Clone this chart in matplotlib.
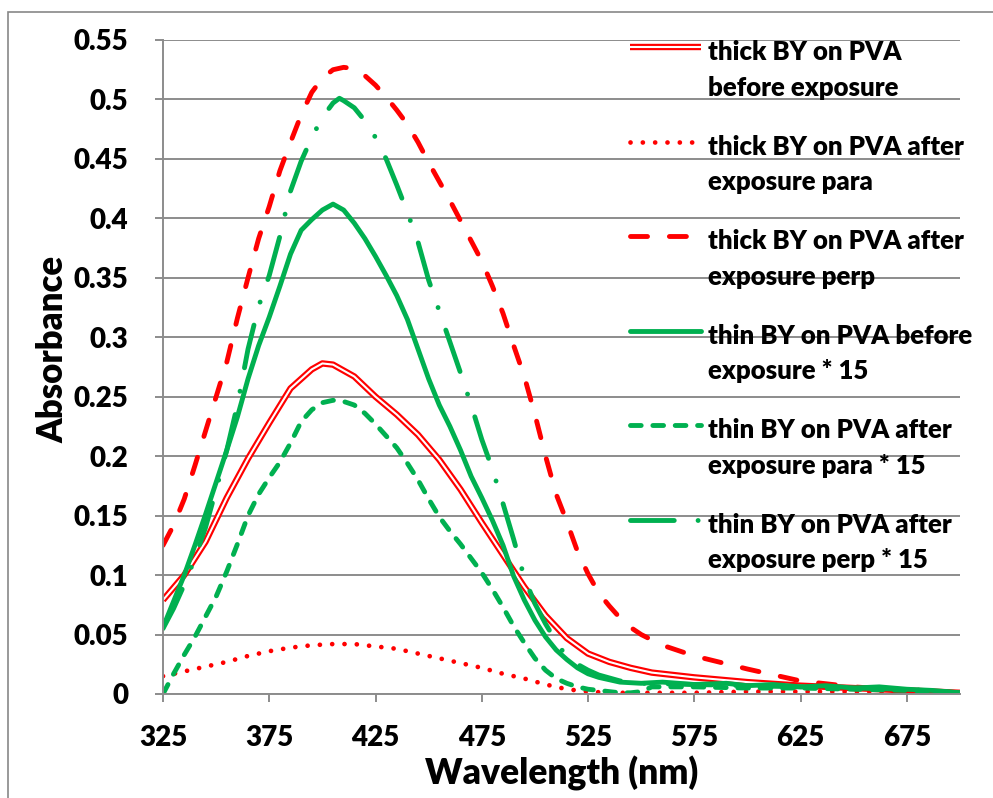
import matplotlib
matplotlib.use("Agg")
import matplotlib.pyplot as plt
import matplotlib.patheffects as pe
from matplotlib.legend_handler import HandlerLine2D
from matplotlib.patches import Rectangle

plt.rcParams['font.family'] = ['Lato', 'DejaVu Sans']
WEIGHT = 'heavy'
plt.rcParams['font.weight'] = WEIGHT

# ---------------- data ----------------
wl_thick_before = [325, 335, 345, 355, 365, 375, 385, 395, 400, 405, 415, 425, 435, 445, 455,
                   465, 475, 485, 495, 505, 515, 525, 535, 545, 555, 575, 600, 625, 650, 675, 700]
thick_before = [0.079, 0.100, 0.128, 0.165, 0.198, 0.228, 0.257, 0.273, 0.278, 0.277, 0.267,
                0.250, 0.235, 0.218, 0.197, 0.172, 0.144, 0.117, 0.090, 0.066, 0.047, 0.034,
                0.027, 0.022, 0.018, 0.014, 0.010, 0.007, 0.005, 0.003, 0.001]

wl_thick_para = [325, 335, 345, 355, 365, 375, 385, 395, 405, 415, 425, 435, 445, 455, 465, 475,
                 485, 495, 505, 515, 525, 535, 545, 575, 600, 625, 650, 675, 700]
thick_para = [0.015, 0.019, 0.023, 0.027, 0.032, 0.036, 0.039, 0.041, 0.042, 0.042, 0.040, 0.038,
              0.034, 0.030, 0.026, 0.022, 0.017, 0.013, 0.008, 0.004, 0.002, 0.001, 0.001, 0.001,
              0.002, 0.002, 0.002, 0.002, 0.001]

wl_thick_perp = [325, 330, 335, 340, 345, 350, 355, 360, 365, 370, 375, 380, 385, 390, 395, 400,
                 405, 410, 415, 420, 425, 430, 435, 440, 445, 450, 455, 460, 465, 470, 475, 480,
                 485, 490, 495, 500, 505, 510, 515, 520, 525, 530, 535, 540, 545, 550, 560, 575,
                 600, 625, 650, 675, 700]
thick_perp = [0.125, 0.142, 0.164, 0.192, 0.221, 0.250, 0.279, 0.316, 0.350, 0.383, 0.410, 0.440,
              0.464, 0.487, 0.506, 0.518, 0.525, 0.527, 0.526, 0.520, 0.512, 0.502, 0.491, 0.479,
              0.464, 0.447, 0.431, 0.415, 0.398, 0.381, 0.364, 0.343, 0.320, 0.293, 0.267, 0.235,
              0.200, 0.168, 0.145, 0.120, 0.101, 0.085, 0.074, 0.064, 0.056, 0.050, 0.041, 0.032,
              0.021, 0.011, 0.006, 0.003, 0.000]

wl_thin_before = [325, 330, 335, 340, 345, 350, 355, 360, 365, 370, 375, 380, 385, 390, 395, 400,
                  405, 410, 415, 420, 425, 430, 435, 440, 445, 450, 455, 460, 465, 470, 475, 480,
                  485, 490, 495, 500, 505, 510, 515, 520, 525, 530, 540, 550, 560, 575, 590, 600,
                  612, 625, 637, 650, 662, 675, 687, 700]
thin_before = [0.056, 0.078, 0.100, 0.125, 0.151, 0.178, 0.205, 0.233, 0.265, 0.293, 0.317, 0.343,
               0.370, 0.390, 0.399, 0.407, 0.412, 0.407, 0.396, 0.383, 0.368, 0.352, 0.335, 0.315,
               0.290, 0.265, 0.243, 0.225, 0.205, 0.183, 0.165, 0.146, 0.125, 0.099, 0.079, 0.062,
               0.048, 0.037, 0.029, 0.022, 0.017, 0.014, 0.010, 0.009, 0.010, 0.008, 0.009, 0.007,
               0.008, 0.006, 0.007, 0.005, 0.006, 0.004, 0.003, 0.001]

wl_thin_para = [325, 330, 335, 340, 345, 350, 355, 360, 365, 370, 375, 380, 385, 390, 395, 400,
                405, 410, 415, 420, 425, 430, 435, 440, 445, 450, 455, 460, 465, 470, 475, 480,
                485, 490, 495, 500, 505, 510, 515, 520, 525, 530, 540, 545, 550, 555, 575, 600,
                625, 650, 675, 700]
thin_para = [0.000, 0.017, 0.033, 0.048, 0.065, 0.082, 0.103, 0.126, 0.150, 0.168, 0.182, 0.195,
             0.211, 0.229, 0.239, 0.245, 0.247, 0.246, 0.243, 0.236, 0.227, 0.217, 0.207, 0.194,
             0.180, 0.164, 0.149, 0.137, 0.126, 0.114, 0.102, 0.088, 0.073, 0.057, 0.043, 0.030,
             0.020, 0.013, 0.009, 0.006, 0.004, 0.003, 0.001, 0.001, 0.002, 0.006, 0.006, 0.005,
             0.005, 0.004, 0.003, 0.001]

wl_thin_perp = [325, 330, 335, 340, 345, 350, 355, 360, 365, 370, 375, 380, 385, 390, 395, 400,
                405, 408, 410, 415, 420, 425, 430, 435, 440, 445, 450, 455, 460, 465, 470, 475,
                480, 485, 490, 495, 500, 505, 510, 515, 520, 525, 530, 540, 550, 575, 600, 625,
                650, 675, 700]
thin_perp = [0.055, 0.072, 0.092, 0.114, 0.140, 0.172, 0.205, 0.243, 0.290, 0.326, 0.352, 0.385,
             0.423, 0.448, 0.468, 0.485, 0.497, 0.501, 0.499, 0.493, 0.482, 0.468, 0.450, 0.428,
             0.405, 0.380, 0.348, 0.322, 0.296, 0.270, 0.243, 0.214, 0.189, 0.160, 0.130, 0.098,
             0.076, 0.059, 0.044, 0.031, 0.025, 0.020, 0.016, 0.011, 0.009, 0.008, 0.007, 0.006,
             0.005, 0.004, 0.001]

labels = ["thick BY on PVA\nbefore exposure",
          "thick BY on PVA after\nexposure para",
          "thick BY on PVA after\nexposure perp",
          "thin BY on PVA before\nexposure * 15",
          "thin BY on PVA after\nexposure para * 15",
          "thin BY on PVA after\nexposure perp * 15"]

x_ticks = [325, 375, 425, 475, 525, 575, 625, 675]
y_ticks = [0, 0.05, 0.1, 0.15, 0.2, 0.25, 0.3, 0.35, 0.4, 0.45, 0.5, 0.55]
y_tick_labels = ["0", "0.05", "0.1", "0.15", "0.2", "0.25", "0.3", "0.35", "0.4", "0.45", "0.5", "0.55"]

RED = "#FF0000"
GREEN = "#00B050"
GRID = "#8C8C8C"

W, H, DPI = 993, 798, 100
fig = plt.figure(figsize=(W / DPI, H / DPI), dpi=DPI)
ax = fig.add_axes([163 / W, 1 - 694 / H, (960 - 163) / W, (694 - 40) / H])

lw = 3.5
ax.plot(wl_thick_before, thick_before, color="white", lw=1.5, solid_capstyle="butt",
        solid_joinstyle="round",
        path_effects=[pe.Stroke(linewidth=4.6, foreground=RED, joinstyle="round"), pe.Normal()],
        label=labels[0])
ax.plot(wl_thick_para, thick_para, color=RED, lw=3.4, linestyle=(0, (0.01, 2.6)),
        dash_capstyle="round", label=labels[1])
ax.plot(wl_thick_perp, thick_perp, color=RED, lw=lw, linestyle=(0, (3.5, 4.5)),
        dash_capstyle="round", dash_joinstyle="round", label=labels[2])
ax.plot(wl_thin_before, thin_before, color=GREEN, lw=lw, solid_capstyle="round",
        solid_joinstyle="round", label=labels[3])
ax.plot(wl_thin_para, thin_para, color=GREEN, lw=lw, linestyle=(0, (2.2, 2.4)),
        dash_capstyle="round", dash_joinstyle="round", label=labels[4])
ax.plot(wl_thin_perp, thin_perp, color=GREEN, lw=lw, linestyle=(0, (9.0, 4.9, 0.01, 4.9)),
        dash_capstyle="round", dash_joinstyle="round", label=labels[5])

ax.set_xlim(325, 700)
ax.set_ylim(0, 0.55)
ax.set_xticks(x_ticks)
ax.set_xticklabels([str(v) for v in x_ticks])
ax.set_yticks(y_ticks)
ax.set_yticklabels(y_tick_labels)
ax.yaxis.grid(True, color=GRID, lw=1.4)
ax.set_axisbelow(True)
for s in ("top", "right"):
    ax.spines[s].set_visible(False)
for s in ("left", "bottom"):
    ax.spines[s].set_color(GRID)
    ax.spines[s].set_linewidth(1.4)
ax.tick_params(axis="both", direction="out", length=6, width=1.4, color=GRID, labelsize=20)
ax.tick_params(axis="y", pad=19)
ax.tick_params(axis="x", pad=16)
for t in ax.get_xticklabels() + ax.get_yticklabels():
    t.set_fontweight(WEIGHT)

ax.set_xlabel("Wavelength (nm)", fontsize=25.5, fontweight=WEIGHT)
ax.xaxis.set_label_coords(0.5, -0.094)
ax.set_ylabel("Absorbance", fontsize=25, fontweight=WEIGHT)
ax.yaxis.set_label_coords(-0.118, 0.527)


class TopHandler(HandlerLine2D):
    def __init__(self, shift, **kw):
        super().__init__(**kw)
        self.shift = shift

    def create_artists(self, legend, orig_handle, xdescent, ydescent, width, height,
                       fontsize, trans):
        arts = super().create_artists(legend, orig_handle, xdescent, ydescent, width,
                                      height, fontsize, trans)
        for a in arts:
            yd = a.get_ydata()
            a.set_ydata([v + self.shift for v in yd])
        return arts


leg_fs = 18.5
handles, labs = ax.get_legend_handles_labels()
hm = {h: TopHandler(shift=0.92 * leg_fs) for h in handles}
leg = fig.legend(handles, labs, loc="upper left", bbox_to_anchor=(630 / W, 1 - 40 / H),
                 frameon=False, handlelength=2.75, handletextpad=0.27,
                 borderpad=0, borderaxespad=0, labelspacing=1.36, handler_map=hm,
                 prop={"weight": WEIGHT, "size": leg_fs})
for t in leg.get_texts():
    t.set_linespacing(1.58)

# outer chart border (left and top edges visible)
fig.patches.append(Rectangle((8 / W, -0.05), 1.2, 1 - 12 / H + 0.05, transform=fig.transFigure,
                             fill=False, edgecolor="#878787", lw=1.2, zorder=0))

fig.savefig("out.png", dpi=DPI)
